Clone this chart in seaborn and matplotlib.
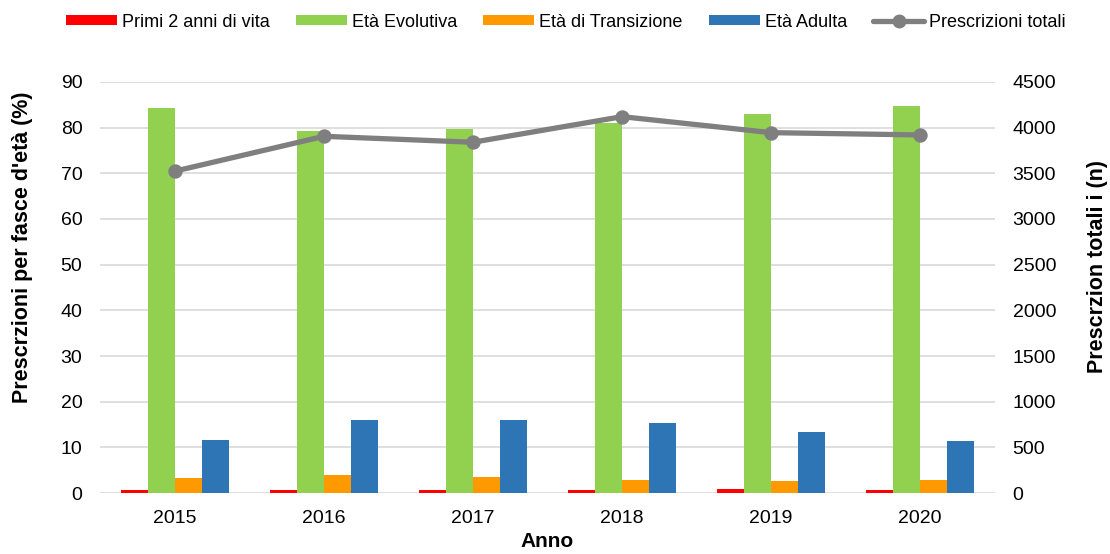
import matplotlib
matplotlib.use("Agg")
import matplotlib.pyplot as plt
import seaborn as sns
import pandas as pd
from matplotlib.patches import Patch
from matplotlib.lines import Line2D

anni = ["2015", "2016", "2017", "2018", "2019", "2020"]
primi2 = [0.6, 0.6, 0.6, 0.6, 0.9, 0.8]
evolutiva = [84.3, 79.2, 79.6, 81.1, 82.9, 84.8]
transizione = [3.3, 4.0, 3.6, 2.8, 2.6, 2.8]
adulta = [11.6, 15.9, 16.0, 15.35, 13.4, 11.4]
totali = [3523, 3904, 3839, 4119, 3944, 3919]

serie = ["Primi 2 anni di vita", "Età Evolutiva", "Età di Transizione", "Età Adulta"]
colori = ["#ff0000", "#92d050", "#ff9900", "#2e75b6"]
linea_col = "#7f7f7f"

rows = []
for nome, vals in zip(serie, [primi2, evolutiva, transizione, adulta]):
    for a, v in zip(anni, vals):
        rows.append({"Anno": a, "fascia": nome, "val": v})
df = pd.DataFrame(rows)
df_tot = pd.DataFrame({"Anno": anni, "tot": totali})

sns.set_theme(style="white")
plt.rcParams["font.family"] = ["Liberation Sans", "DejaVu Sans"]
plt.rcParams["text.color"] = "black"
plt.rcParams["axes.labelcolor"] = "black"
plt.rcParams["xtick.color"] = "black"
plt.rcParams["ytick.color"] = "black"

fig = plt.figure(figsize=(11.1, 5.54), dpi=100)
ax = fig.add_axes([0.0905, 0.1098, 0.8055, 0.7425])

sns.barplot(data=df, x="Anno", y="val", hue="fascia", hue_order=serie,
            palette=colori, width=0.73, ax=ax, legend=False, linewidth=0,
            saturation=1)
ax.set_ylim(0, 90)
ax.set_xlim(-0.5, 5.5)
ax.set_yticks(range(0, 91, 10))
ax.yaxis.grid(True, color="#d9d9d9", linewidth=1.2)
ax.set_axisbelow(True)
for s in ax.spines.values():
    s.set_visible(False)
ax.tick_params(axis="y", labelsize=14, length=0, pad=13)
ax.tick_params(axis="x", labelsize=14, length=0, pad=12)
ax.set_ylabel("Prescrzioni per fasce d'età (%)", fontsize=15.5, fontweight="bold")
ax.yaxis.set_label_coords(-0.075, 0.598)
ax.set_xlabel("Anno", fontsize=15, fontweight="bold", labelpad=4)

ax2 = ax.twinx()
sns.pointplot(data=df_tot, x="Anno", y="tot", color=linea_col, ax=ax2,
              markers="o", markersize=7.5, linewidth=3.8)
ax2.set_ylim(0, 4500)
ax2.set_xlim(-0.5, 5.5)
ax2.set_yticks(range(0, 4501, 500))
for s in ax2.spines.values():
    s.set_visible(False)
ax2.tick_params(axis="y", labelsize=14, length=0, pad=13)
ax2.set_ylabel("Prescrzion totali i (n)", fontsize=15.5, fontweight="bold")
ax2.yaxis.set_label_coords(1.103, 0.551)
ax2.grid(False)

handles = [Patch(facecolor=c, edgecolor="none") for c in colori]
handles.append(Line2D([0], [0], color=linea_col, lw=3.8, marker="o", markersize=9))
fig.legend(handles, serie + ["Prescrizioni totali"], loc="center",
           bbox_to_anchor=(0.51, 0.96), ncol=5, frameon=False, fontsize=13,
           handlelength=2.8, handleheight=0.5, columnspacing=1.45, handletextpad=0.3)

fig.savefig("out.png", dpi=100)
